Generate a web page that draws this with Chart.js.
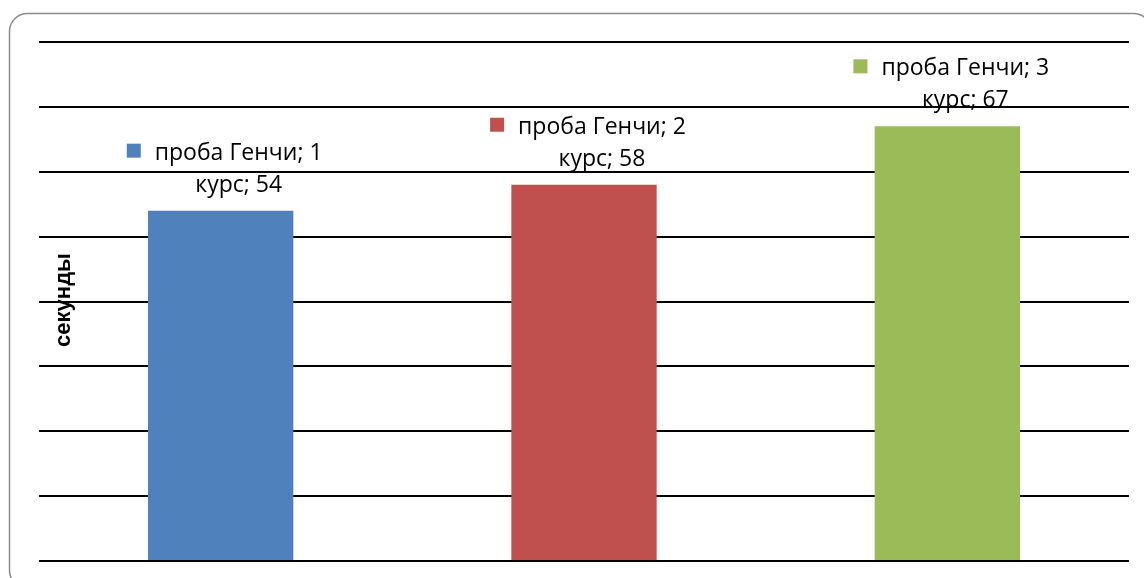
<!DOCTYPE html>
<html>
<head>
<meta charset="utf-8">
<script src="https://cdn.jsdelivr.net/npm/chart.js@4"></script>
<style>
  html, body { margin: 0; padding: 0; background: #fff; }
  #wrap { position: relative; width: 1144px; height: 578px; }
</style>
</head>
<body>
<div id="wrap"><canvas id="chart"></canvas></div>
<script>
var categories = ["1 курс", "2 курс", "3 курс"];
var seriesName = "проба Генчи";
var values = [54, 58, 67];
var courseLabels = ["1", "2", "3"];
var barColors = ["#4f81bd", "#c0504d", "#9bbb59"];
var axisTitle = "секунды";

var context = document.getElementById("chart").getContext("2d");

// frame with rounded corners around the whole chart
var frame = {
  id: "frame",
  beforeDraw: function (chart) {
    var c = chart.ctx;
    var x = 9.5, y = 13.5, w = 1142, h = 575, r = 18;
    c.save();
    c.strokeStyle = "#8c8c8c";
    c.lineWidth = 1.5;
    c.beginPath();
    c.moveTo(x + r, y);
    c.lineTo(x + w - r, y);
    c.arcTo(x + w, y, x + w, y + r, r);
    c.lineTo(x + w, y + h - r);
    c.arcTo(x + w, y + h, x + w - r, y + h, r);
    c.lineTo(x + r, y + h);
    c.arcTo(x, y + h, x, y + h - r, r);
    c.lineTo(x, y + r);
    c.arcTo(x, y, x + r, y, r);
    c.stroke();
    c.restore();
  }
};

// data labels: legend key + "series; category" on one line, value below
var dataLabels = {
  id: "dataLabels",
  afterDatasetsDraw: function (chart) {
    var c = chart.ctx;
    var meta = chart.getDatasetMeta(0);
    c.save();
    c.font = "23px 'Open Sans'";
    c.fillStyle = "#000";
    c.textBaseline = "alphabetic";
    meta.data.forEach(function (bar, i) {
      var line1 = seriesName + "; " + courseLabels[i];
      var line2 = "курс; " + values[i];
      var w1 = c.measureText(line1).width;
      var key = 14, gap = 14;
      var total = key + gap + w1;
      var left = bar.x + 4 - total / 2;
      var textX = left + key + gap;
      var base1 = bar.y - 51;
      var base2 = bar.y - 19;
      c.fillStyle = barColors[i];
      c.fillRect(left, base1 - 16, key, key);
      c.fillStyle = "#000";
      c.textAlign = "left";
      c.fillText(line1, textX, base1);
      c.textAlign = "center";
      c.fillText(line2, textX + w1 / 2, base2);
    });
    // axis title
    c.font = "bold 22px 'Liberation Sans'";
    c.textAlign = "center";
    c.textBaseline = "middle";
    c.translate(64, 300);
    c.rotate(-Math.PI / 2);
    c.fillText(axisTitle, 0, 0);
    c.restore();
  }
};

var bar = new Chart(context, {
  type: "bar",
  data: {
    labels: categories,
    datasets: [
      {
        label: seriesName,
        data: values,
        backgroundColor: barColors,
        borderWidth: 0,
        categoryPercentage: 1,
        barPercentage: 0.4
      }
    ]
  },
  options: {
    responsive: true,
    maintainAspectRatio: false,
    animation: false,
    layout: { padding: { left: 39, right: 15, top: 42, bottom: 17 } },
    plugins: {
      legend: { display: false },
      tooltip: { enabled: false }
    },
    scales: {
      x: { display: false },
      y: {
        min: 0,
        max: 80,
        afterFit: function (scale) { scale.width = 0; },
        ticks: { display: false, stepSize: 10 },
        border: { display: false },
        grid: { color: "#000", lineWidth: 2, drawTicks: false }
      }
    }
  },
  plugins: [frame, dataLabels]
});
</script>
</body>
</html>
